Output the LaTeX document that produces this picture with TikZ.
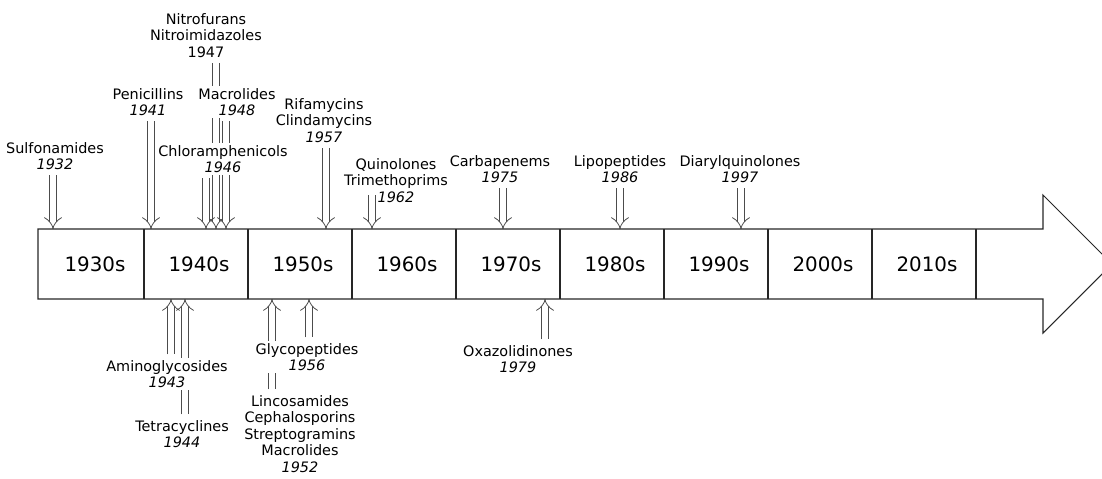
\documentclass[tikz,border=0pt]{standalone}
\usepackage{fontspec}
\setmainfont{DejaVu Sans}
\usetikzlibrary{arrows.meta,backgrounds}
\tikzset{
  decade/.style={font=\fontsize{11.3}{14}\selectfont,inner sep=0pt},
  drug/.style={align=center,font=\fontsize{8.2}{9.4}\selectfont,inner sep=1pt,anchor=north},
  drugcov/.style={drug,fill=white},
  introarrow/.style={draw=black!70,line width=0.45pt,double=white,
    double distance=3.2pt,-{Implies[scale=1.6]},shorten <=2pt},
  timeline/.style={draw=black!85,line width=0.6pt},
}

\begin{document}
\begin{tikzpicture}[x=0.02cm,y=-0.02cm]
  \useasboundingbox (0,0) rectangle (1102,478);
  \clip (0,0) rectangle (1102,478);
  % the time line
  \draw[timeline] (38,229) -- (1043,229) -- (1043,195) -- (1112,264)
    -- (1043,333) -- (1043,299) -- (38,299) -- cycle;
  \foreach \x in {144,248,352,456,560,664,768,872,976}
    \draw[timeline] (\x,229) -- (\x,299);
  \foreach \d [count=\i from 0] in {1930,1940,...,2010}
    \node[decade] (d\d) at (95+104*\i,264) {\d s};
  % where each class comes in
  \foreach \yr/\x in {1932/53,1941/151,1946/206,1947/216,1948/226,
      1957/326,1962/372,1975/503,1986/620,1997/741}
    \coordinate (y\yr) at (\x,229);
  \foreach \yr/\x in {1943/171,1944/185,1952/272,1956/309,1979/545}
    \coordinate (y\yr) at (\x,299);
  \coordinate (q1962) at (372,195);
  % above
  \node[drug] (sulfa) at (55,140) {Sulfonamides\\\textit{1932}};
  \node[drug] (peni) at (148,86) {Penicillins\\\textit{1941}};
  \node[drug] (nitro) at (206,11) {Nitrofurans\\Nitroimidazoles\\1947};
  \node[drugcov] (macro) at (237,86) {Macrolides\\\textit{1948}};
  \node[drugcov] (chlor) at (223,143) {Chloramphenicols\\\textit{1946}};
  \node[drug] (rifa) at (324,96) {Rifamycins\\Clindamycins\\\textit{1957}};
  \node[drug] (quin) at (396,156) {Quinolones\\Trimethoprims\\\textit{1962}};
  \node[drug] (carba) at (500,153) {Carbapenems\\\textit{1975}};
  \node[drug] (lipo) at (620,153) {Lipopeptides\\\textit{1986}};
  \node[drug] (diaryl) at (740,153) {Diarylquinolones\\\textit{1997}};
  % below
  \node[drugcov] (amino) at (167,358) {Aminoglycosides\\\textit{1943}};
  \node[drug] (tetra) at (182,418) {Tetracyclines\\\textit{1944}};
  \node[drugcov] (glyco) at (307,341) {Glycopeptides\\\textit{1956}};
  \node[drug] (linco) at (300,393)
    {Lincosamides\\Cephalosporins\\Streptogramins\\Macrolides\\\textit{1952}};
  \node[drug] (oxa) at (518,343) {Oxazolidinones\\\textit{1979}};
  \begin{scope}[on background layer]
    \draw[introarrow] (sulfa.south -| y1932) -- (y1932);
    \draw[introarrow] (peni.south -| y1941) -- (y1941);
    \draw[introarrow] (nitro.south -| y1947) -- (y1947);
    \draw[introarrow] (macro.south -| y1948) -- (y1948);
    \draw[introarrow] (chlor.south -| y1946) -- (y1946);
    \draw[introarrow] (rifa.south -| y1957) -- (y1957);
    \draw[introarrow,shorten <=0pt] (q1962) -- (y1962);
    \draw[introarrow] (carba.south -| y1975) -- (y1975);
    \draw[introarrow] (lipo.south -| y1986) -- (y1986);
    \draw[introarrow] (diaryl.south -| y1997) -- (y1997);
    \draw[introarrow] (amino.north -| y1943) -- (y1943);
    \draw[introarrow] (tetra.north -| y1944) -- (y1944);
    \draw[introarrow] (linco.north -| y1952) -- (y1952);
    \draw[introarrow] (glyco.north -| y1956) -- (y1956);
    \draw[introarrow] (oxa.north -| y1979) -- (y1979);
  \end{scope}
\end{tikzpicture}
\end{document}
